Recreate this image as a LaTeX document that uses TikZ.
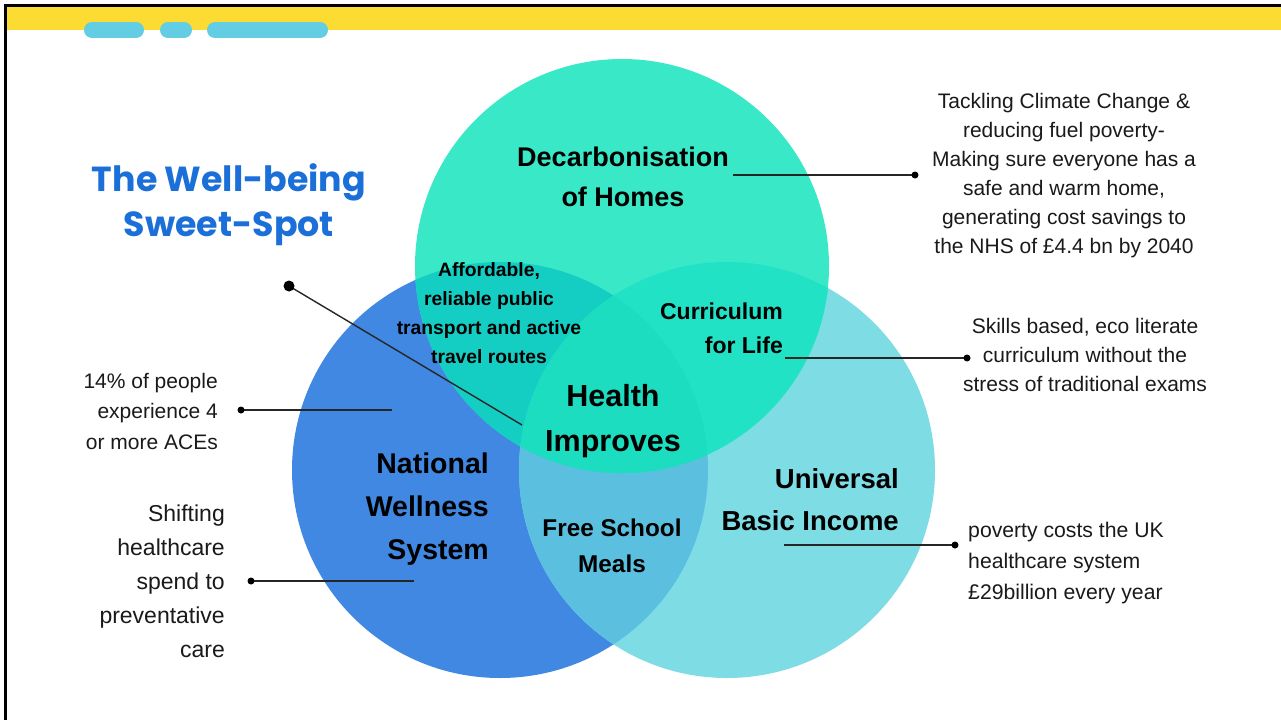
\documentclass[tikz,border=0pt]{standalone}
\usepackage{fontspec}
\setmainfont{Liberation Sans}
\newfontfamily\titlefont{Poppins}
\definecolor{frameyellow}{HTML}{FCDC33}
\definecolor{pill}{HTML}{62CDE3}
\definecolor{cblue}{HTML}{4088E2}
\definecolor{ccyan}{HTML}{7DDCE4}
\definecolor{cgreen}{HTML}{38E8C6}
\definecolor{cLR}{HTML}{5BC0E0}
\definecolor{cTL}{HTML}{14CEC4}
\definecolor{cTR}{HTML}{22E2C6}
\definecolor{cTLR}{HTML}{1DDDC0}
\definecolor{titleblue}{HTML}{1B6FD8}
\definecolor{txt}{HTML}{1A1A1A}
\tikzset{
  lbl/.style={font=\bfseries\fontsize{27}{40}\selectfont, text=black, inner sep=0pt},
  lblsmall/.style={font=\bfseries\fontsize{19.3}{29}\selectfont, text=black, inner sep=0pt},
  lblmid/.style={font=\bfseries\fontsize{23}{34}\selectfont, text=black, inner sep=0pt},
  side/.style={font=\fontsize{21}{29}\selectfont, text=txt, inner sep=0pt},
  conn/.style={line width=1.4pt, black!85},
  dotc/.style={fill=black, draw=none},
  pillbar/.style={line width=16pt, line cap=round, draw=pill}
}
\begin{document}
\begin{tikzpicture}[x=1pt,y=-1pt]
\useasboundingbox (0,0) rectangle (1281,720);
\fill[white] (0,0) rectangle (1281,720);
% frame
\fill[frameyellow] (6,6) rectangle (1281,30);
\fill[black] (4,4) rectangle (1281,7);
\fill[black] (4,4) rectangle (7,720);
% pills
\draw[pillbar] (92,30) -- (136,30);
\draw[pillbar] (168,30) -- (184,30);
\draw[pillbar] (215,30) -- (320,30);
% circles
\fill[cblue] (500,470) circle (208pt);
\fill[ccyan] (727,470) circle (208pt);
\begin{scope}
  \clip (500,470) circle (208pt);
  \fill[cLR] (727,470) circle (208pt);
\end{scope}
\fill[cgreen] (622,266) circle (207pt);
\begin{scope}
  \clip (622,266) circle (207pt);
  \fill[cTL] (500,470) circle (208pt);
  \fill[cTR] (727,470) circle (208pt);
  \clip (500,470) circle (208pt);
  \fill[cTLR] (727,470) circle (208pt);
\end{scope}
% title
\node[font=\titlefont\bfseries\fontsize{34.8}{45}\selectfont, text=titleblue, align=center, inner sep=0pt] (title) at (229,205) {The Well-being\\Sweet-Spot};
% labels
\node[lbl, align=center] (decarb) at (623,177) {Decarbonisation\\of Homes};
\node[lblsmall, align=center] (transport) at (489,313) {Affordable,\\reliable public\\transport and active\\travel routes};
\node[lblmid, align=right, anchor=east] (curric) at (783,328) {Curriculum\\for Life};
\node[font=\bfseries\fontsize{30.5}{45}\selectfont, align=center, inner sep=0pt] (health) at (613,421) {Health\\Improves};
\node[font=\bfseries\fontsize{28.5}{43}\selectfont, align=right, anchor=east, inner sep=0pt] (nws) at (489,509) {National\\Wellness\\System};
\node[font=\bfseries\fontsize{24.3}{36}\selectfont, align=center, inner sep=0pt] (fsm) at (612,546) {Free School\\Meals};
\node[font=\bfseries\fontsize{27.5}{42}\selectfont, align=right, anchor=east, inner sep=0pt] (ubi) at (899,500) {Universal\\Basic Income};
% side texts
\node[side, align=center] (climate) at (1064,176) {Tackling Climate Change \&\\reducing fuel poverty-\\Making sure everyone has a\\safe and warm home,\\generating cost savings to\\the NHS of £4.4 bn by 2040};
\node[side, align=center] (skills) at (1085,355) {Skills based, eco literate\\curriculum without the\\stress of traditional exams};
\node[side, align=left, anchor=west, font=\fontsize{21.2}{31}\selectfont] (poverty) at (968,563) {poverty costs the UK\\healthcare system\\£29billion every year};
\node[side, align=right, anchor=east, font=\fontsize{21}{30.5}\selectfont] (aces) at (218,411) {14\% of people\\experience 4\\or more ACEs};
\node[side, align=right, anchor=east, font=\fontsize{23}{34}\selectfont] (shift) at (225,581) {Shifting\\healthcare\\spend to\\preventative\\care};
% connectors
\coordinate (d1s) at (733,175); \coordinate (d1e) at (915,175);
\coordinate (d2s) at (785,358); \coordinate (d2e) at (967,358);
\coordinate (d3s) at (784,545); \coordinate (d3e) at (955,545);
\coordinate (d4s) at (392,410); \coordinate (d4e) at (241,410);
\coordinate (d5s) at (414,581); \coordinate (d5e) at (251,581);
\coordinate (d6s) at (522,425); \coordinate (d6e) at (289,286);
\foreach \a/\b/\r in {d1s/d1e/3.5, d2s/d2e/3.5, d3s/d3e/3.5, d4s/d4e/3.5, d5s/d5e/3.5, d6s/d6e/5.5}{
  \draw[conn] (\a) -- (\b);
  \fill[dotc] (\b) circle (\r pt);
}
\end{tikzpicture}
\end{document}
